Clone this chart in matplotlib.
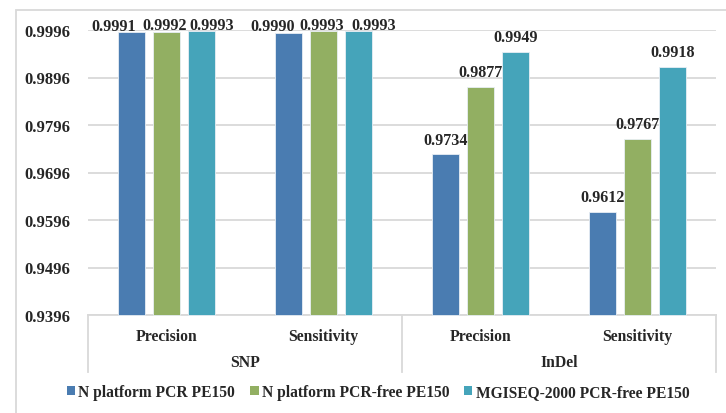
import matplotlib
matplotlib.use("Agg")
import matplotlib.pyplot as plt
from matplotlib.patches import Patch, Rectangle
from matplotlib.lines import Line2D
import matplotlib.transforms as mtransforms

groups = ["SNP", "InDel"]
metrics = ["Precision", "Sensitivity", "Precision", "Sensitivity"]
series = ["N platform PCR PE150", "N platform PCR-free PE150", "MGISEQ-2000 PCR-free PE150"]
values = [
    [0.9991, 0.9990, 0.9734, 0.9612],
    [0.9992, 0.9993, 0.9877, 0.9767],
    [0.9993, 0.9993, 0.9949, 0.9918],
]
yticks = [0.9396, 0.9496, 0.9596, 0.9696, 0.9796, 0.9896, 0.9996]
colors = ["#4A7CB1", "#92AF62", "#45A4BA"]

# label offsets in points (dx, dy) per series per category (styling only)
label_dx = [[-13, -12, 0, 0], [-1.5, -1, 0, 0], [7.5, 11, 0, 0]]
label_dy = [[-1, -1, 5, 5], [-1, -1, 5, 5], [-1, -1, 5, 5]]

plt.rcParams['font.family'] = ['Liberation Serif', 'DejaVu Serif']
plt.rcParams['font.weight'] = 'bold'
txt = "#262626"

W, H = 726, 414
fig = plt.figure(figsize=(W / 100, H / 100), dpi=100)

# outer border
fig.patches.append(Rectangle((16 / W, -0.1), 1.2, (H - 11) / H + 0.1, transform=fig.transFigure,
                             fill=False, edgecolor="#D9D9D9", lw=1.3))

x0, x1, ytop, ybot = 88, 716, 31, 316
ax = fig.add_axes([x0 / W, (H - ybot) / H, (x1 - x0) / W, (ybot - ytop) / H])
ax.set_xlim(-0.5, 3.5)
ax.set_ylim(yticks[0], yticks[-1])

width = 0.172
step = 0.221
for i, (name, vals, c) in enumerate(zip(series, values, colors)):
    xs = [k + (i - 1) * step for k in range(len(metrics))]
    ax.bar(xs, [v - yticks[0] for v in vals], bottom=yticks[0], width=width, color=c,
           edgecolor="#E8EEF4", linewidth=0.6, zorder=3, clip_on=False)
    for k, (xx, v) in enumerate(zip(xs, vals)):
        ax.annotate(f"{v:.4f}", (xx, v), xytext=(label_dx[i][k], label_dy[i][k]),
                    textcoords="offset points", ha="center", va="bottom", fontsize=11.6,
                    fontweight="bold", color=txt, annotation_clip=False, zorder=4)

ax.set_yticks(yticks)
ax.set_yticklabels([f"{t:.4f}" for t in yticks], fontsize=12, fontweight="bold", color=txt)
ax.tick_params(axis="y", length=0, pad=13)
ax.set_xticks([])
ax.grid(axis="y", color="#D9D9D9", lw=1.3, zorder=0)
for s in ["top", "right", "left"]:
    ax.spines[s].set_visible(False)
ax.spines["bottom"].set_color("#D9D9D9")
ax.spines["bottom"].set_linewidth(1.3)

# multi-level category axis
trans = mtransforms.blended_transform_factory(ax.transData, fig.transFigure)
for k, m in enumerate(metrics):
    ax.text(k, (H - 337) / H, m, transform=trans, ha="center", va="center",
            fontsize=11.3, fontweight="bold", color=txt)
for g, name in enumerate(groups):
    ax.text(2 * g + 0.5, (H - 363) / H, name, transform=trans, ha="center", va="center",
            fontsize=11.3, fontweight="bold", color=txt)
for xv in [-0.5, 1.5, 3.5]:
    fig.add_artist(Line2D([xv, xv], [(H - ybot) / H, (H - 373) / H], transform=trans,
                          color="#D9D9D9", lw=1.3))

handles = [Patch(facecolor=c, edgecolor="none") for c in colors]
fig.legend(handles, series, loc="center", bbox_to_anchor=(378 / W, (H - 393) / H), ncol=3,
           frameon=False, handlelength=0.55, handleheight=0.55, handletextpad=0.2,
           columnspacing=0.95, prop={"family": "Liberation Serif", "weight": "bold", "size": 11.2},
           labelcolor=txt)

fig.savefig("out.png", dpi=100)
